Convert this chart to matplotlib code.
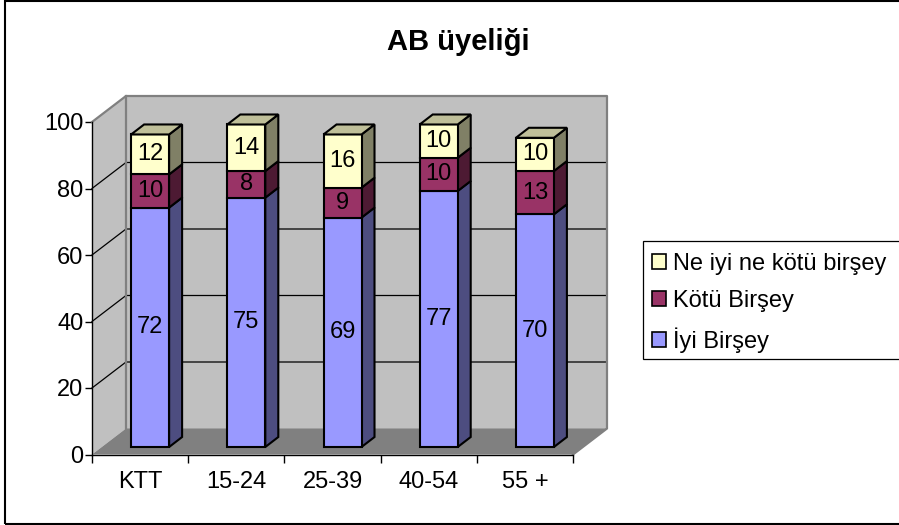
import matplotlib
matplotlib.use('Agg')
import matplotlib.pyplot as plt
import numpy as np
from matplotlib.patches import Polygon, Rectangle, Patch

plt.rcParams['font.family'] = ['Liberation Sans', 'DejaVu Sans']

categories = ['KTT', '15-24', '25-39', '40-54', '55 +']
iyi = [72, 75, 69, 77, 70]
kotu = [10, 8, 9, 10, 13]
ne_iyi = [12, 14, 16, 10, 10]

series = [iyi, kotu, ne_iyi]
names = ['İyi Birşey', 'Kötü Birşey', 'Ne iyi ne kötü birşey']
front_col = ['#9999FF', '#993366', '#FFFFCC']
side_col = ['#4D4D80', '#4D1A33', '#808066']
top_col = ['#4D4D80', '#73264D', '#BFBF99']

W, H = 899, 525
fig = plt.figure(figsize=(W / 100, H / 100), dpi=100)
fig.patch.set_facecolor('white')

# axes box is the front edge of the 3d floor, in pixels
left, right, top, bottom = 92, 573, 122, 454.5
ax = fig.add_axes([left / W, 1 - bottom / H, (right - left) / W, (bottom - top) / H])
ax.set_xlim(0, 5)
ax.set_ylim(0, 100)
ax.patch.set_visible(False)

# depth of the box and of the bars, in data units
dx, dy = 34 / 96.2, 26 / 3.325
bdx, bdy = 13 / 96.2, 10 / 3.325
bar_w = 38 / 96.2
off_x, off_y = 0.104, 2.25


def poly(pts, fc, ec='none', lw=0, z=1):
    ax.add_patch(Polygon(pts, closed=True, facecolor=fc, edgecolor=ec, linewidth=lw,
                         clip_on=False, zorder=z, joinstyle='miter'))


# walls and floor
poly([(0, 0), (dx, dy), (dx, 100 + dy), (0, 100)], '#C0C0C0', z=1)
poly([(dx, dy), (5 + dx, dy), (5 + dx, 100 + dy), (dx, 100 + dy)], '#C0C0C0', z=1)
poly([(0, 0), (5, 0), (5 + dx, dy), (dx, dy)], '#808080', z=1)

for v in range(20, 101, 20):
    if v < 100:
        ax.plot([0, dx, 5 + dx], [v, v + dy, v + dy], color='black', lw=0.9, clip_on=False, zorder=2)
ax.plot([0, dx, 5 + dx, 5 + dx, 5], [100, 100 + dy, 100 + dy, dy, 0], color='#808080', lw=1.6,
        clip_on=False, zorder=2)
ax.plot([dx, dx], [dy, 100 + dy], color='#808080', lw=1.6, clip_on=False, zorder=2)

# stacked bars with side and top faces
for i in range(len(categories)):
    x0 = i + 0.5 - bar_w / 2 + off_x
    x1 = x0 + bar_w
    base = off_y
    for s, vals in enumerate(series):
        v = vals[i]
        poly([(x1, base), (x1 + bdx, base + bdy), (x1 + bdx, base + v + bdy), (x1, base + v)],
             side_col[s], 'black', 1.5, z=3 + s)
        poly([(x0, base), (x1, base), (x1, base + v), (x0, base + v)],
             front_col[s], 'black', 1.5, z=3 + s)
        if s == len(series) - 1:
            poly([(x0, base + v), (x1, base + v), (x1 + bdx, base + v + bdy), (x0 + bdx, base + v + bdy)],
                 top_col[s], 'black', 1.5, z=3 + s)
        ax.text((x0 + x1) / 2, base + v / 2, str(v), ha='center', va='center', fontsize=17,
                color='black', zorder=10)
        base += v

# axes
for sp in ['top', 'right']:
    ax.spines[sp].set_visible(False)
for sp in ['left', 'bottom']:
    ax.spines[sp].set_linewidth(1.0)
    ax.spines[sp].set_zorder(2.5)
ax.set_yticks(range(0, 101, 20))
ax.set_xticks(range(6))
ax.set_xticklabels([])
ax.set_xticks(np.arange(5) + 0.5, minor=True)
ax.set_xticklabels(categories, minor=True)
ax.tick_params(axis='x', which='major', length=6, width=1)
ax.tick_params(axis='x', which='minor', length=0, pad=12, labelsize=17)
ax.tick_params(axis='y', length=5, width=1, pad=1.3, labelsize=17)

fig.text(458 / W, 1 - 42.5 / H, 'AB üyeliği', ha='center', va='center', fontsize=21, fontweight='bold')

# chart border, the right side runs off the picture
fig.add_artist(Rectangle((5 / W, 1 - 523.5 / H), 910 / W, 522.5 / H, transform=fig.transFigure,
                         facecolor='none', edgecolor='black', linewidth=1.5))

# legend box also runs off to the right, so it is drawn apart from the entries
fig.add_artist(Rectangle((643 / W, 1 - 359 / H), 270 / W, 118 / H, transform=fig.transFigure,
                         facecolor='white', edgecolor='black', linewidth=0.9))
handles = [Patch(facecolor=front_col[s], edgecolor='black', linewidth=1.2, label=names[s]) for s in [2, 1, 0]]
leg = fig.legend(handles=handles, loc='upper left', bbox_to_anchor=(652 / W, 1 - 252.5 / H),
                 bbox_transform=fig.transFigure, fontsize=17, frameon=False, borderaxespad=0, borderpad=0,
                 handlelength=0.6, handleheight=0.6, handletextpad=0.3, labelspacing=0.66)

fig.savefig('out.png', dpi=100)
